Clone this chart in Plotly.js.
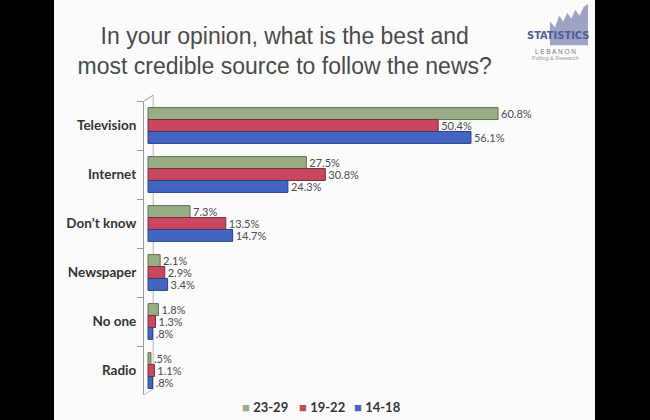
<!DOCTYPE html>
<html>
<head>
<meta charset="utf-8">
<script src="https://cdn.plot.ly/plotly-3.0.1.min.js"></script>
<style>
  html, body { margin: 0; padding: 0; background: #000; }
  #slide { position: absolute; left: 54px; top: 0; width: 541px; height: 420px; background: #fbfbfb; }
  #chart { position: absolute; left: 0; top: 0; width: 650px; height: 420px; }
</style>
</head>
<body>
<div id="slide"></div>
<div id="chart"></div>
<script>
// ---- data ----
const categories = ["Television", "Internet", "Don\u2019t know", "Newspaper", "No one", "Radio"];
const seriesNames = ["23-29", "19-22", "14-18"];
const age23_29 = [60.8, 27.5, 7.3, 2.1, 1.8, 0.5];
const age19_22 = [50.4, 30.8, 13.5, 2.9, 1.3, 1.1];
const age14_18 = [56.1, 24.3, 14.7, 3.4, 0.8, 0.8];

const seriesValues = [age23_29, age19_22, age14_18];
const fillColors = ["#97ad85", "#c9485f", "#4466c2"];
const edgeColors = ["#5f6e52", "#7d2a3a", "#28407e"];

function fmt(v) {
  let s = v.toFixed(1);
  if (s.startsWith("0")) s = s.slice(1);
  return s + "%";
}

const traces = seriesValues.map((vals, i) => ({
  type: "bar",
  orientation: "h",
  name: seriesNames[i],
  y: categories,
  x: vals,
  text: vals.map(fmt),
  textposition: "outside",
  constraintext: "none",
  cliponaxis: false,
  textfont: { family: "Lato, 'Open Sans', sans-serif", size: 11, color: "#4a4a4a" },
  marker: { color: fillColors[i], line: { color: edgeColors[i], width: 1 } },
  showlegend: false,
  hoverinfo: "skip"
}));

// legend drawn as text entries (coloured square + series name)
const legendX = [0.2359, 0.376, 0.511];
const legendAnnotations = seriesNames.map((name, i) => ({
  xref: "paper", yref: "paper", x: legendX[i], y: -0.041,
  xanchor: "left", yanchor: "middle", showarrow: false,
  text: "<span style='color:" + fillColors[i] + "'>\u25A0</span> <b>" + name + "</b>",
  font: { family: "Lato, 'Open Sans', sans-serif", size: 13, color: "#333" }
}));

const layout = {
  width: 650,
  height: 420,
  paper_bgcolor: "rgba(0,0,0,0)",
  plot_bgcolor: "rgba(0,0,0,0)",
  margin: { l: 144, r: 99, t: 101, b: 25, autoexpand: false },
  barmode: "group",
  bargap: 0.27,
  bargroupgap: 0,
  showlegend: false,
  title: {
    text: "In your opinion, what is the best and<br>most credible source to follow the news?",
    font: { family: "'Liberation Sans', Arial, sans-serif", size: 23, color: "#4a4a4a" },
    xref: "container", x: 0.438, xanchor: "center",
    yref: "container", y: 0.895, yanchor: "top"
  },
  xaxis: {
    range: [-0.7, 70],
    showgrid: false, zeroline: false, showline: false,
    showticklabels: false, ticks: "", fixedrange: true
  },
  yaxis: {
    type: "category",
    autorange: "reversed",
    showgrid: false, zeroline: false,
    showline: true, linecolor: "#9a9a9a", linewidth: 1,
    ticks: "outside", ticklen: 6, tickcolor: "#9a9a9a", tickson: "boundaries",
    tickfont: { family: "Lato, 'Open Sans', sans-serif", size: 13.5, color: "#333", weight: "bold" },
    ticklabelstandoff: 4
  },
  shapes: [
    // 3D wall back edge and top/bottom diagonals
    { type: "line", xref: "x", yref: "paper", x0: 0.9, x1: 0.9, y0: 1.02, y1: 0.02, line: { color: "#b5b5b5", width: 1 }, layer: "below" },
    { type: "line", xref: "x", yref: "paper", x0: -0.7, x1: 0.9, y0: 1.0, y1: 1.02, line: { color: "#9a9a9a", width: 1 } },
    { type: "line", xref: "x", yref: "paper", x0: -0.7, x1: 0.9, y0: 0.0, y1: 0.02, line: { color: "#b5b5b5", width: 1 } },
    // logo skyline
    { type: "path", xref: "paper", yref: "paper",
      path: "M 0.9975 1.19 L 0.9975 1.27 L 1.01 1.25 L 1.02 1.29 L 1.03 1.27 L 1.04 1.30 L 1.05 1.28 L 1.06 1.31 L 1.07 1.29 L 1.08 1.32 L 1.091 1.33 L 1.091 1.19 Z",
      fillcolor: "#9ea3c6", line: { width: 0 } }
  ],
  annotations: legendAnnotations.concat([
    { xref: "paper", yref: "paper", x: 1.017, y: 1.224, xanchor: "center", yanchor: "middle", showarrow: false,
      text: "<b>STATISTICS</b>", font: { family: "'DejaVu Sans Condensed', 'Liberation Sans Narrow', sans-serif", size: 11, color: "#4f5c98" } },
    { xref: "paper", yref: "paper", x: 1.01, y: 1.167, xanchor: "center", yanchor: "middle", showarrow: false,
      text: "L E B A N O N", font: { family: "'Liberation Sans', sans-serif", size: 6.5, color: "#777" } },
    { xref: "paper", yref: "paper", x: 1.01, y: 1.146, xanchor: "center", yanchor: "middle", showarrow: false,
      text: "Polling &amp; Research", font: { family: "'Liberation Sans', sans-serif", size: 5.5, color: "#999" } }
  ])
};

Plotly.newPlot("chart", traces, layout, { displayModeBar: false, staticPlot: true });
</script>
</body>
</html>
